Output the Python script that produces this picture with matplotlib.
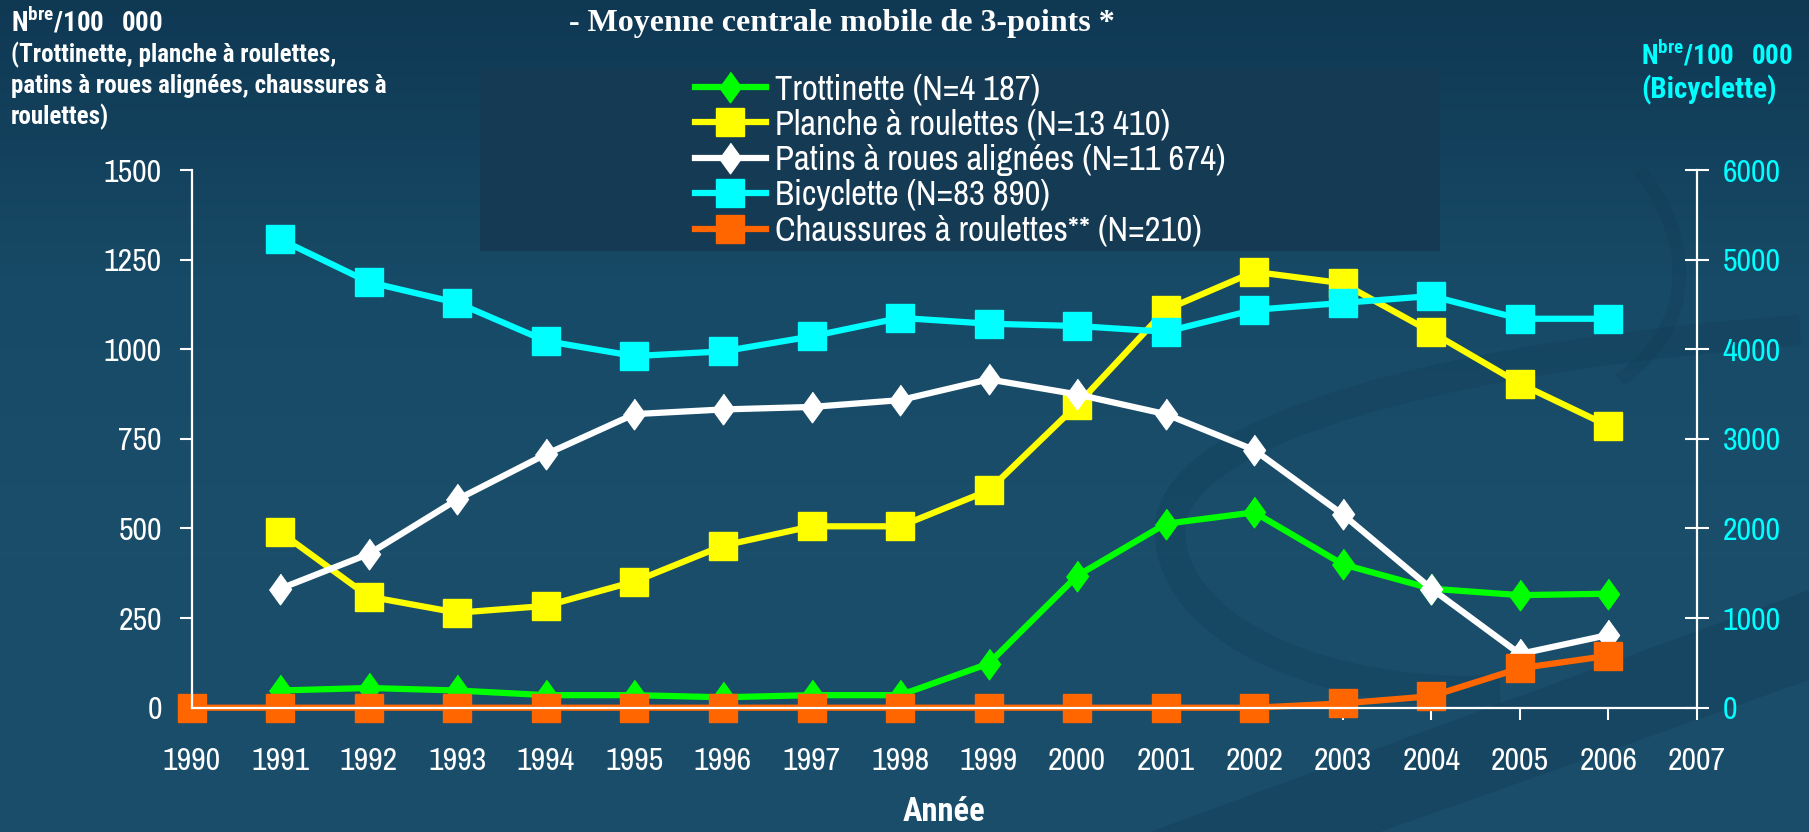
import matplotlib
matplotlib.use("Agg")
import matplotlib.pyplot as plt
import numpy as np
from matplotlib import font_manager as fm
from matplotlib.patches import Rectangle, PathPatch
from matplotlib.path import Path

# data (3-point central moving average, per 100 000)
years = list(range(1990, 2007))
years_91 = list(range(1991, 2007))
trottinette = [48, 55, 48, 35, 35, 29, 35, 35, 123, 368, 513, 545, 400, 332, 314, 318]
planche = [490, 310, 265, 284, 352, 452, 506, 506, 606, 845, 1110, 1216, 1184, 1048, 904, 786]
patins = [332, 429, 581, 707, 819, 832, 839, 858, 916, 874, 819, 719, 539, 332, 150, 203]
bicyclette = [5226, 4749, 4517, 4092, 3924, 3976, 4143, 4350, 4285, 4259, 4195, 4440, 4517, 4594, 4340, 4340]
chaussures = [0, 0, 0, 0, 0, 0, 0, 0, 0, 0, 0, 0, 0, 12, 32, 110, 145]

labels = ["Trottinette (N=4 187)", "Planche à roulettes (N=13 410)",
          "Patins à roues alignées (N=11 674)", "Bicyclette (N=83 890)",
          "Chaussures à roulettes** (N=210)"]
left_ticks = [0, 250, 500, 750, 1000, 1250, 1500]
right_ticks = [0, 1000, 2000, 3000, 4000, 5000, 6000]
year_ticks = list(range(1990, 2008))


def wnum(w):
    return w if isinstance(w, (int, float)) else fm.weight_dict.get(w, 400)


installed = {f.name for f in fm.fontManager.ttflist}
bold_ok = {f.name for f in fm.fontManager.ttflist if wnum(f.weight) >= 700 and f.style == 'normal'}
NARROW = next(n for n in ["Archivo Narrow", "Roboto Condensed", "Liberation Sans", "DejaVu Sans"]
              if n in installed)
NARROW_B = next(n for n in ["Archivo Narrow", "Roboto Condensed", "Fira Sans Condensed",
                            "Barlow Semi Condensed", "Asap Condensed", "Liberation Sans",
                            "DejaVu Sans"] if n in bold_ok)
SERIF = next(n for n in ["Liberation Serif", "DejaVu Serif"] if n in installed)

plt.rcParams['font.family'] = [NARROW, 'DejaVu Sans']
plt.rcParams['mathtext.fontset'] = 'custom'
plt.rcParams['mathtext.rm'] = NARROW_B + ':bold'
plt.rcParams['mathtext.bf'] = NARROW_B + ':bold'

W, H = 1809, 832
fig = plt.figure(figsize=(W / 100, H / 100), dpi=100)

# background with gradient and faint swirls
bg = fig.add_axes([0, 0, 1, 1], zorder=-10)
grad = np.linspace(0, 1, 256).reshape(-1, 1)
cmap = matplotlib.colors.LinearSegmentedColormap.from_list(
    "bg", ["#0f3853", "#174a66", "#1a4e6b", "#194d6a"])
bg.imshow(grad, aspect='auto', cmap=cmap, extent=[0, W, H, 0])
bg.set_xlim(0, W)
bg.set_ylim(H, 0)
bg.axis('off')
swirl = "#123c55"
band = Path([(1150, 832), (1809, 590), (1809, 680), (1380, 832), (1150, 832)])
bg.add_patch(PathPatch(band, facecolor=swirl, edgecolor='none', alpha=0.4))
arc = Path([(1800, 330), (1400, 360), (1170, 440), (1170, 530),
            (1170, 640), (1350, 700), (1500, 690)],
           [Path.MOVETO, Path.CURVE4, Path.CURVE4, Path.CURVE4,
            Path.CURVE4, Path.CURVE4, Path.CURVE4])
bg.add_patch(PathPatch(arc, facecolor='none', edgecolor=swirl, lw=22, alpha=0.3))
arc2 = Path([(1640, 170), (1700, 250), (1690, 330), (1620, 380)],
            [Path.MOVETO, Path.CURVE4, Path.CURVE4, Path.CURVE4])
bg.add_patch(PathPatch(arc2, facecolor='none', edgecolor=swirl, lw=10, alpha=0.3))
# legend box
bg.add_patch(Rectangle((480, 69), 960, 182, facecolor="#153a54", edgecolor='none'))

ax = fig.add_axes([191.7 / W, 1 - 707.7 / H, (1697 - 191.7) / W, (707.7 - 170) / H])
ax.patch.set_visible(False)
ax2 = ax.twinx()

lw = 4.5
diamond = [(0, 1), (0.72, 0), (0, -1), (-0.72, 0)]
l1, = ax.plot(years_91, trottinette, color="#00ff00", lw=lw, marker=diamond, ms=22)
l2, = ax.plot(years_91, planche, color="#ffff00", lw=lw, marker='s', ms=19.5)
l3, = ax.plot(years_91, patins, color="white", lw=lw, marker=diamond, ms=22)
l5, = ax.plot(years, chaussures, color="#ff6600", lw=lw, marker='s', ms=19.5,
              clip_on=False)
l4, = ax2.plot(years_91, bicyclette, color="#00ffff", lw=lw, marker='s', ms=19.5)

ax.set_xlim(1990, 2007)
ax.set_ylim(0, 1500)
ax2.set_ylim(0, 6000)
ax.set_xticks(year_ticks)
ax.set_yticks(left_ticks)
ax2.set_yticks(right_ticks)

for s in ['top', 'right']:
    ax.spines[s].set_visible(False)
for s in ['top', 'left', 'bottom']:
    ax2.spines[s].set_visible(False)
for sp in [ax.spines['left'], ax.spines['bottom'], ax2.spines['right']]:
    sp.set_color('white')
    sp.set_linewidth(1.6)

ax.tick_params(axis='y', direction='out', length=8.5, width=1.5, color='white',
               labelcolor='white', labelsize=23, pad=13)
ax.tick_params(axis='x', direction='out', length=8.5, width=1.5, color='white',
               labelcolor='white', labelsize=23, pad=20)
ax2.tick_params(axis='y', direction='inout', length=17, width=1.5, color='white',
                labelcolor='#00ffff', labelsize=23, pad=10)

ax.set_xlabel("Année", color='white', fontsize=23.5, fontweight='bold',
              family=NARROW_B, labelpad=15)

# legend
fig.legend([l1, l2, l3, l4, l5], labels, loc='center',
           bbox_to_anchor=(960 / W, 1 - 160 / H), frameon=False,
           fontsize=25, labelcolor='white', handlelength=2.05,
           handletextpad=0.25, labelspacing=0.1, borderpad=0)

# title and axis captions
fig.text(842 / W, 1 - 24 / H, "- Moyenne centrale mobile de 3-points *",
         ha='center', va='center', color='white', fontsize=23,
         fontweight='bold', family=SERIF)
fig.text(11 / W, 1 - 21 / H, r"$\mathbf{N^{bre}/100\ \ 000}$", color='white',
         fontsize=19.5, va='center', ha='left')
left_lines = ["(Trottinette, planche à roulettes,",
              "patins à roues alignées, chaussures à",
              "roulettes)"]
for txt, yy in zip(left_lines, [55, 86.5, 116.5]):
    fig.text(11 / W, 1 - yy / H, txt, color='white', fontsize=18,
             fontweight='bold', family=NARROW_B, va='center', ha='left')
fig.text(1641 / W, 1 - 54 / H, r"$\mathbf{N^{bre}/100\ \ 000}$", color='#00ffff',
         fontsize=19.5, va='center', ha='left')
fig.text(1641 / W, 1 - 90 / H, "(Bicyclette)", color='#00ffff',
         fontsize=21, fontweight='bold', family=NARROW_B, va='center', ha='left')

fig.savefig("out.png", dpi=100)
